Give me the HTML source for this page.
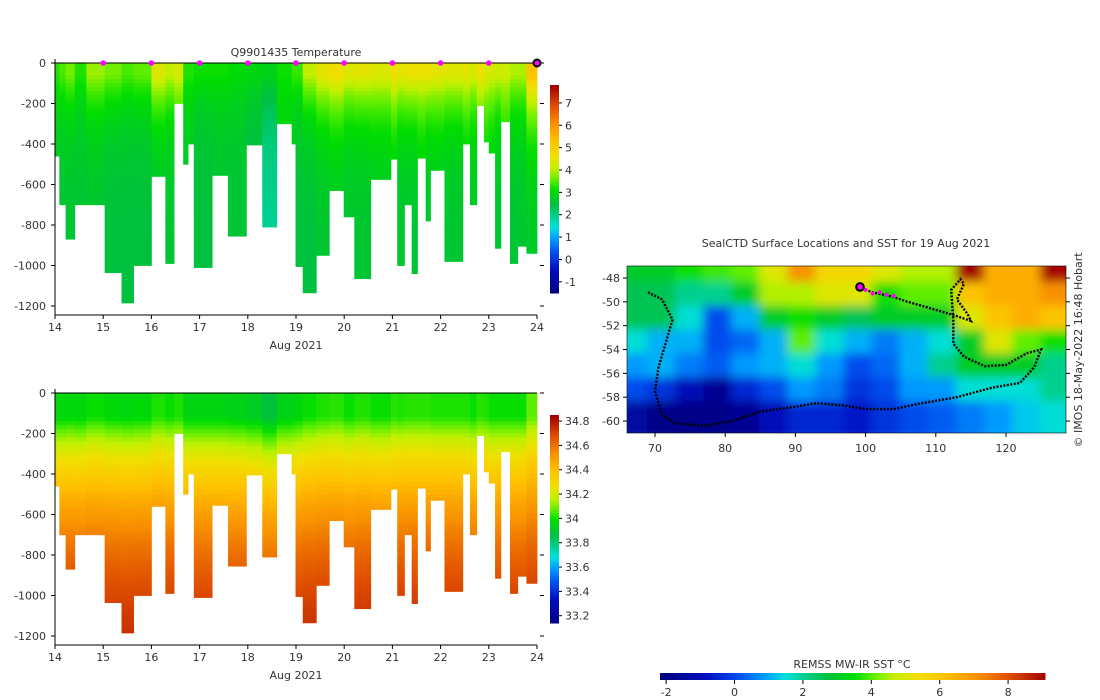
<!DOCTYPE html>
<html><head><meta charset="utf-8"><style>
body{margin:0;background:#fff;}
svg{display:block;font-family:"DejaVu Sans","Liberation Sans",sans-serif;}
text{fill:#333;font-size:11px;}
</style></head><body>
<svg id="root" width="1100" height="700" viewBox="0 0 1100 700">
<defs>
<clipPath id="mapclip"><rect x="627" y="266" width="439" height="167"/></clipPath>
<filter id="blur" x="-5%" y="-5%" width="110%" height="110%"><feGaussianBlur stdDeviation="5"/></filter>
</defs>
<g id="tempChart"></g>
<g id="salChart"></g>
<g id="mapChart"></g>
</svg>
<script>
// ---- section data ----
const colStart=[14.0,14.09,14.22,14.41,14.65,15.03,15.38,15.63,16.0,16.29,16.47,16.66,16.76,16.88,17.26,17.59,17.97,18.3,18.6,18.91,18.99,19.14,19.42,19.69,19.99,20.21,20.55,20.97,21.1,21.25,21.4,21.52,21.69,21.79,22.08,22.46,22.61,22.75,22.9,23.0,23.13,23.25,23.44,23.6,23.78];
const colDepth=[460,700,870,700,700,1035,1185,1000,560,990,200,500,400,1010,555,855,405,810,300,400,1005,1135,950,630,760,1065,575,475,1000,700,1040,470,780,530,980,400,700,210,390,445,915,290,990,905,940];
const surfT=[3.3,3.5,3.7,3.3,3.9,3.7,3.5,3.6,4.4,4.1,4.3,3.3,3.3,3.2,3.2,3.1,3.0,2.9,3.2,3.4,3.4,4.1,4.5,4.7,4.4,4.5,4.4,4.7,4.5,4.6,4.6,4.6,4.6,4.5,4.4,4.5,4.3,4.6,4.4,4.3,4.2,4.2,4.0,4.0,5.3];
const deepT=[2.7,2.6,2.6,2.6,2.6,2.5,2.5,2.5,2.6,2.6,2.8,2.7,2.7,2.5,2.6,2.6,2.4,1.9,2.9,2.7,2.5,2.5,2.6,2.7,2.6,2.6,2.7,2.8,2.6,2.6,2.6,2.8,2.6,2.7,2.6,2.8,2.7,3.0,2.9,2.8,2.6,3.0,2.6,2.6,2.7];
const surfS=[33.97,33.97,33.98,33.97,34.0,33.98,33.97,33.98,34.02,34.0,34.02,33.96,33.96,33.96,33.96,33.95,33.93,33.88,33.95,33.96,33.97,34.0,34.02,34.03,34.0,34.02,34.0,34.03,34.02,34.03,34.03,34.03,34.03,34.02,34.02,34.02,34.0,34.03,34.02,34.0,34.0,34.0,34.0,34.0,34.08];
const deepS=34.86;
const profileDays=[15,16,17,18,19,20,21,22,23];
const depthTicks=[0,-200,-400,-600,-800,-1000,-1200];
const dayTicks=[14,15,16,17,18,19,20,21,22,23,24];
const tempBarTicks=[-1,0,1,2,3,4,5,6,7];
const salBarTicks=[33.2,33.4,33.6,33.8,34,34.2,34.4,34.6,34.8];
// ---- map data ----
const sstLons=[66,70,74,78,82,86,90,94,98,102,106,110,114,118,122,126];
const sstLats=[-47,-49,-51,-53,-55,-57,-59];
const sstGrid=[
[3,3,3.5,3.8,4,5,7,5.5,5.5,5,4.5,4.5,9,6.5,6.5,9],
[2.5,2.5,2,2,3,4.5,4.5,5,5,3.5,4,4,6,6.5,6.5,7],
[2.5,2.5,1.5,0,1,3,3.5,3,2.5,3,3,3,5,6,6.5,6],
[1.5,1,1,0,0.3,1,4,1.5,1,0.5,1,1.5,3,5,4,3.5],
[0.8,1,0.5,0.2,0.8,1,1.5,0.8,0,0.3,1,2,3,3,3,2],
[0,-0.3,-1,-1.8,-0.5,0,0.8,0.5,-0.3,0,0.8,0.8,1.5,1.5,1.5,2],
[-1.5,-2,-2,-2,-1.8,-1,-0.5,-0.5,-0.7,-0.3,0,0.2,0.5,0.8,1.2,1.5]];
const trackLon=[69,71,72.5,71.5,70.5,70,71,73,77,81,85,90,93,97,100,104,108,113,118,122,124,125,123,120,117,114,112.5,112.5,112.2,113.5,114,113,114.5,115,112.5,109,106,104,101,99.2];
const trackLat=[-49.2,-49.8,-51.5,-53.5,-55.5,-57.5,-59.5,-60.2,-60.4,-60,-59.2,-58.8,-58.5,-58.7,-59,-59,-58.5,-58,-57.2,-56.8,-55.5,-54,-54.3,-55.3,-55.4,-54.6,-53.5,-51.5,-49,-48.1,-48.5,-49.8,-51,-51.6,-51.1,-50.5,-50,-49.6,-49.2,-48.8];
const recentLon=[100,101,102,103,104];
const recentLat=[-49.0,-49.3,-49.2,-49.4,-49.5];
const lonTicks=[70,80,90,100,110,120];
const latTicks=[-48,-50,-52,-54,-56,-58,-60];
const sstBarTicks=[-2,0,2,4,6,8];

const NS='http://www.w3.org/2000/svg';
function mk(p,tag,at){const e=document.createElementNS(NS,tag);for(const k in at)e.setAttribute(k,at[k]);p.appendChild(e);return e;}
const stops=[[0,[0,0,128]],[0.12,[0,16,192]],[0.2,[0,80,240]],[0.27,[0,160,255]],[0.32,[0,224,224]],[0.37,[0,208,144]],[0.43,[0,192,64]],[0.5,[0,221,0]],[0.55,[96,238,0]],[0.6,[192,240,0]],[0.66,[240,224,0]],[0.74,[255,192,0]],[0.82,[248,144,0]],[0.9,[224,80,0]],[1,[160,0,0]]];
function cmap(t){t=Math.max(0,Math.min(1,t));for(let i=1;i<stops.length;i++){if(t<=stops[i][0]){const a=stops[i-1],b=stops[i];const f=(t-a[0])/(b[0]-a[0]);const c=a[1].map((v,j)=>Math.round(v+(b[1][j]-v)*f));return `rgb(${c[0]},${c[1]},${c[2]})`;}}return 'rgb(160,0,0)';}

function section(g,y0,vmin,vmax,valFn,barTicks,title){
  const xs=d=>55+(d-14)*48.2;
  const yOf=depth=>y0+depth*0.2025;
  const cells=mk(g,'g',{});
  
  
  for(let i=0;i<colStart.length;i++){
    const x1=xs(colStart[i]), x2=xs(i+1<colStart.length?colStart[i+1]:24);
    for(let z=0;z<colDepth[i];z+=20){
      const h=Math.min(20,colDepth[i]-z);
      mk(cells,'rect',{x:x1.toFixed(2),y:yOf(z).toFixed(2),width:(x2-x1+0.4).toFixed(2),height:(h*0.2025+0.4).toFixed(2),fill:cmap((valFn(i,z+10)-vmin)/(vmax-vmin))});
    }
  }
  const bottom=y0+252;
  mk(g,'line',{x1:55,y1:y0,x2:537,y2:y0,stroke:'#000','stroke-width':1});
  mk(g,'line',{x1:55,y1:y0-4,x2:55,y2:bottom,stroke:'#000'});
  mk(g,'line',{x1:55,y1:bottom,x2:537,y2:bottom,stroke:'#000'});
  depthTicks.forEach(v=>{const y=yOf(-v);mk(g,'line',{x1:51,y1:y,x2:55,y2:y,stroke:'#000'});mk(g,'line',{x1:540,y1:y,x2:544,y2:y,stroke:'#000'});
    const t=mk(g,'text',{x:46,y:y+4,'text-anchor':'end'});t.textContent=v;
    });
  dayTicks.forEach(d=>{const x=xs(d);mk(g,'line',{x1:x,y1:bottom,x2:x,y2:bottom+4,stroke:'#000'});
    const t=mk(g,'text',{x:x,y:bottom+16,'text-anchor':'middle'});t.textContent=d;
    });
  const xl=mk(g,'text',{x:296,y:bottom+34,'text-anchor':'middle'});xl.textContent='Aug 2021';
  
  if(title){const tt=mk(g,'text',{x:296,y:y0-7,'text-anchor':'middle'});tt.textContent=title;
    
    profileDays.forEach(d=>{const c=mk(g,'circle',{cx:xs(d),cy:y0,r:2.8,fill:'#ff00ff'});
      });
    const c=mk(g,'circle',{cx:xs(24),cy:y0,r:3.5,fill:'#ff00ff',stroke:'#000','stroke-width':2});
    }
  const cb=mk(g,'g',{});
  const cTop=y0+22, cBot=y0+230;
  for(let k=0;k<104;k++){const y=cTop+(cBot-cTop)*k/104;mk(cb,'rect',{x:550,y:y.toFixed(2),width:9,height:((cBot-cTop)/104+0.5).toFixed(2),fill:cmap(1-k/104)});}
  const yb=v=>cBot-(v-vmin)/(vmax-vmin)*(cBot-cTop);
  barTicks.forEach(v=>{const y=yb(v);mk(cb,'line',{x1:559,y1:y,x2:562,y2:y,stroke:'#000'});const t=mk(cb,'text',{x:565,y:y+4});t.textContent=v;
    });
}
const tg=document.getElementById('tempChart');
section(tg,63,-1.5,7.8,(i,z)=>deepT[i]+(surfT[i]-deepT[i])*Math.exp(-Math.max(0,z-60)/220),tempBarTicks,'Q9901435  Temperature');
const sg=document.getElementById('salChart');
section(sg,393,33.14,34.85,(i,z)=>surfS[i]+(deepS-surfS[i])*(1-Math.exp(-Math.max(0,z-120)/520)),salBarTicks,null);

// ---- map ----
const mg=document.getElementById('mapChart');
const mx=lon=>655+(lon-70)*7.02, my=lat=>278+(-48-lat)*11.92;
const smin=-2.18,smax=9.08;
const mt=mk(mg,'text',{x:846,y:247,'text-anchor':'middle'});mt.textContent='SealCTD Surface Locations and SST for 19 Aug 2021';

const clipG=mk(mg,'g',{'clip-path':'url(#mapclip)'});
const heat=mk(clipG,'g',{filter:'url(#blur)'});

sstGrid.forEach((row,r)=>row.forEach((v,c)=>{
  mk(heat,'rect',{x:(mx(sstLons[c])-8).toFixed(1),y:(my(sstLats[r])-8).toFixed(1),width:(mx(sstLons[c]+4)-mx(sstLons[c])+16).toFixed(1),height:(my(sstLats[r]-2)-my(sstLats[r])+16).toFixed(1),fill:cmap((v-smin)/(smax-smin))});
}));
let d='';trackLon.forEach((lo,i)=>{d+=(i?'L':'M')+mx(lo).toFixed(1)+' '+my(trackLat[i]).toFixed(1);});
const tp=mk(clipG,'path',{d:d,fill:'none',stroke:'#000','stroke-width':2.4,'stroke-dasharray':'2 1.5'});

recentLon.forEach((lo,i)=>{const c=mk(clipG,'circle',{cx:mx(lo),cy:my(recentLat[i]),r:2,fill:'#ff00ff'});
  });
const cm=mk(clipG,'circle',{cx:mx(99.2),cy:my(-48.75),r:3.8,fill:'#ff00ff',stroke:'#000','stroke-width':2});

mk(mg,'rect',{x:627,y:266,width:439,height:167,fill:'none',stroke:'#000','stroke-width':0.6});
lonTicks.forEach(l=>{const x=mx(l);mk(mg,'line',{x1:x,y1:433,x2:x,y2:437,stroke:'#000'});const t=mk(mg,'text',{x:x,y:452,'text-anchor':'middle'});t.textContent=l;
  });
latTicks.forEach(l=>{const y=my(l);mk(mg,'line',{x1:623,y1:y,x2:627,y2:y,stroke:'#000'});mk(mg,'line',{x1:1066,y1:y,x2:1070,y2:y,stroke:'#000'});const t=mk(mg,'text',{x:620,y:y+4,'text-anchor':'end'});t.textContent=l;
  });
const cp=mk(mg,'text',{x:0,y:0,'text-anchor':'middle',transform:'translate(1082,350) rotate(-90)','font-size':'10'});cp.textContent='© IMOS 18-May-2022 16:48 Hobart';

const hb=mk(mg,'g',{});
for(let k=0;k<110;k++){const x=660+385*k/110;mk(hb,'rect',{x:x.toFixed(2),y:673,width:(385/110+0.5).toFixed(2),height:7,fill:cmap(k/110)});}
const xb=v=>660+(v-smin)/(smax-smin)*385;
sstBarTicks.forEach(v=>{const x=xb(v);mk(hb,'line',{x1:x,y1:680,x2:x,y2:684,stroke:'#000'});const t=mk(hb,'text',{x:x,y:696,'text-anchor':'middle'});t.textContent=v;
  });
const hl=mk(hb,'text',{x:852,y:668,'text-anchor':'middle'});hl.textContent='REMSS MW-IR SST °C';

</script>
</body></html>
